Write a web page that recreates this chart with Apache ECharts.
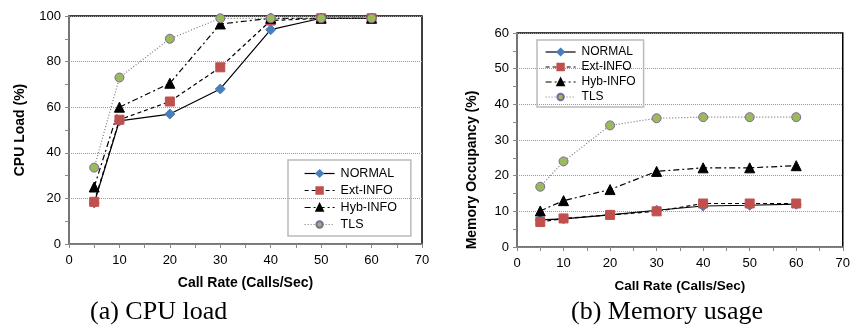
<!DOCTYPE html>
<html>
<head>
<meta charset="utf-8">
<script src="https://cdn.jsdelivr.net/npm/echarts@6/dist/echarts.min.js"></script>
<style>
  html, body { margin: 0; padding: 0; background: #fff; }
  #main { width: 853px; height: 329px; }
</style>
</head>
<body>
<div id="main"></div>
<script>
const callRate = [5, 10, 20, 30, 40, 50, 60];
const seriesNames = ['NORMAL', 'Ext-INFO', 'Hyb-INFO', 'TLS'];

// (a) CPU load, %
const cpuNormal = [18, 54, 57, 68, 94, 99, 99];
const cpuExt = [18.5, 54.5, 62.5, 77.5, 98, 99, 99];
const cpuHyb = [25, 60, 70.5, 96.5, 99, 99, 99];
const cpuTls = [33.5, 73, 90, 99, 99, 99, 99];

// (b) Memory occupancy, %
const memNormal = [7.6, 7.9, 9, 10.3, 11.5, 11.7, 12];
const memExt = [7, 8, 9, 10, 12.2, 12.2, 12.2];
const memHyb = [10.1, 13, 16.1, 21.2, 22.2, 22.2, 22.8];
const memTls = [16.9, 24, 34.1, 36.1, 36.4, 36.4, 36.4];

const styles = {
  'NORMAL': { symbol: 'diamond', size: 10, color: '#4a7ebb', border: '#4a7ebb', line: 'solid', lineColor: '#000' },
  'Ext-INFO': { symbol: 'rect', size: 9, color: '#c0504d', border: '#c0504d', line: [4, 3], lineColor: '#000' },
  'Hyb-INFO': { symbol: 'triangle', size: 10, color: '#000', border: '#000', line: [6, 3, 2, 3], lineColor: '#000' },
  'TLS': { symbol: 'circle', size: 9, color: '#9bbb59', border: '#8064a2', line: [1, 2], lineColor: '#777' }
};

function pairs(vals) {
  return callRate.map((x, i) => [x, vals[i]]);
}

function makeSeries(name, vals, idx) {
  const s = styles[name];
  return {
    name: name,
    type: 'line',
    xAxisIndex: idx,
    yAxisIndex: idx,
    data: pairs(vals),
    symbol: s.symbol,
    symbolSize: s.size,
    itemStyle: { color: s.color, borderColor: s.border, borderWidth: 1 },
    lineStyle: { color: s.lineColor, width: 1.2, type: s.line },
    animation: false
  };
}

const fontFam = 'Liberation Sans, Arial, sans-serif';
const tickFont = { fontFamily: fontFam, fontSize: 13, color: '#000' };

function xAxis(idx, nameSize) {
  return {
    type: 'value', gridIndex: idx, min: 0, max: 70, interval: 10,
    name: 'Call Rate (Calls/Sec)', nameLocation: 'middle', nameGap: 32,
    nameTextStyle: { fontFamily: fontFam, fontSize: nameSize, fontWeight: 'bold', color: '#000' },
    axisLine: { lineStyle: { color: '#888', width: 1.5 } },
    axisTick: { show: true, lineStyle: { color: '#888' }, length: 4 },
    minorTick: { show: true, splitNumber: 2, length: 4, lineStyle: { color: '#888' } },
    axisLabel: Object.assign({ margin: 10 }, tickFont),
    splitLine: { show: false }
  };
}

function yAxis(idx, max, interval, name, gap) {
  return {
    type: 'value', gridIndex: idx, min: 0, max: max, interval: interval,
    name: name, nameLocation: 'middle', nameGap: gap,
    nameTextStyle: { fontFamily: fontFam, fontSize: 14, fontWeight: 'bold', color: '#000' },
    axisLine: { show: true, lineStyle: { color: '#888', width: 1.5 } },
    axisTick: { show: true, lineStyle: { color: '#888' }, length: 4 },
    minorTick: { show: true, splitNumber: 2, length: 4, lineStyle: { color: '#888' } },
    axisLabel: Object.assign({ margin: 8 }, tickFont),
    splitLine: { show: true, lineStyle: { color: '#999', type: [1, 1], width: 1 } }
  };
}

function legend(left, top, fontSize, gap, padding) {
  return {
    data: seriesNames, orient: 'vertical', left: left, top: top,
    itemWidth: 30, itemHeight: 8, itemGap: gap,
    borderColor: '#bbb', borderWidth: 1.5, borderRadius: 0, padding: padding,
    textStyle: { fontFamily: fontFam, fontSize: fontSize, color: '#000', padding: [0, 0, 0, 1] },
    lineStyle: { width: 1.2 },
    selectedMode: false
  };
}

const chart = echarts.init(document.getElementById('main'), null, { renderer: 'canvas' });
chart.setOption({
  backgroundColor: '#fff',
  animation: false,
  grid: [
    { left: 69, top: 16, width: 353, height: 228, show: true, borderColor: '#000', borderWidth: 1.5, backgroundColor: 'transparent' },
    { left: 517, top: 33, width: 331, height: 214, show: true, borderColor: '#000', borderWidth: 1.5, backgroundColor: 'transparent' }
  ],
  legend: [legend(288, 160, 12.5, 4, [7, 14, 5, 16]), legend(537, 40, 12, 3, [6, 8, 4, 8])],
  xAxis: [xAxis(0, 14), xAxis(1, 13.5)],
  yAxis: [yAxis(0, 100, 20, 'CPU Load (%)', 42), yAxis(1, 60, 10, '', 38)],
  series: [
    makeSeries('NORMAL', cpuNormal, 0),
    makeSeries('Ext-INFO', cpuExt, 0),
    makeSeries('Hyb-INFO', cpuHyb, 0),
    makeSeries('TLS', cpuTls, 0),
    makeSeries('NORMAL', memNormal, 1),
    makeSeries('Ext-INFO', memExt, 1),
    makeSeries('Hyb-INFO', memHyb, 1),
    makeSeries('TLS', memTls, 1)
  ],
  graphic: [
    { type: 'text', x: 472, y: 170, rotation: Math.PI / 2,
      style: { text: 'Memory Occupancy (%)', font: 'bold 14px Liberation Sans, Arial, sans-serif', fill: '#000', align: 'center', verticalAlign: 'middle' } },
    { type: 'text', left: 90, top: 299, style: { text: '(a) CPU load', font: '26px "Liberation Serif", "Times New Roman", serif', fill: '#000' } },
    { type: 'text', left: 571, top: 299, style: { text: '(b) Memory usage', font: '26px "Liberation Serif", "Times New Roman", serif', fill: '#000' } }
  ]
});
</script>
</body>
</html>
